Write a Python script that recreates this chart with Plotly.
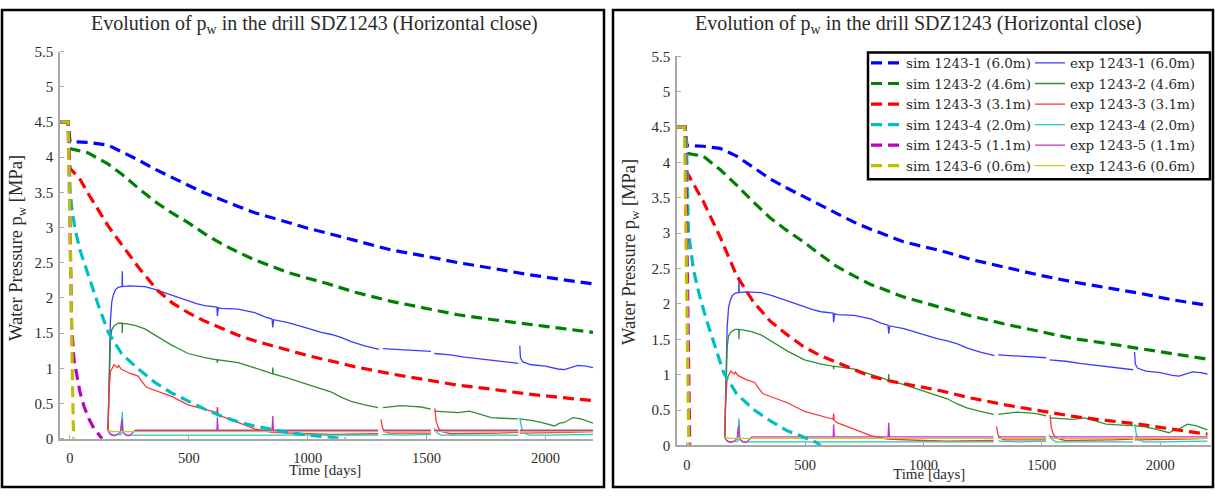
import plotly.graph_objects as go

# ---------------- data ----------------
labels = ["1243-1 (6.0m)", "1243-2 (4.6m)", "1243-3 (3.1m)",
          "1243-4 (2.0m)", "1243-5 (1.1m)", "1243-6 (0.6m)"]
sim_colors = ["#0000FF", "#008000", "#FF0000", "#00BFBF", "#BF00BF", "#BFBF00"]
exp_colors = ["#3c3cff", "#2f8f2f", "#ff3535", "#1cc8c8", "#c832c8", "#c8c81e"]

# simulation, left panel
simL1_t = [-40, -8, 0, 77, 161, 217, 287, 357, 427, 497, 567, 637, 707, 777, 847, 917, 1000, 1071,
           1200, 1352, 1500, 1632, 1780, 1912, 2050, 2200]
simL1_v = [4.5, 4.5, 4.22, 4.21, 4.17, 4.08, 3.96, 3.83, 3.71, 3.60, 3.49, 3.39, 3.30, 3.21, 3.14,
           3.07, 2.99, 2.93, 2.81, 2.68, 2.59, 2.50, 2.42, 2.34, 2.27, 2.20]
simL2_t = [-40, -8, 0, 77, 161, 217, 287, 357, 427, 497, 567, 637, 707, 777, 847, 917, 1000, 1085,
           1200, 1352, 1500, 1632, 1780, 1912, 2050, 2200]
simL2_v = [4.5, 4.5, 4.12, 4.06, 3.90, 3.76, 3.56, 3.37, 3.21, 3.07, 2.91, 2.77, 2.65, 2.54, 2.45,
           2.36, 2.28, 2.20, 2.08, 1.95, 1.85, 1.76, 1.69, 1.63, 1.57, 1.51]
simL3_t = [-40, -8, 0, 40, 77, 120, 161, 217, 287, 364, 430, 497, 560, 637, 707, 777, 850, 917,
           1000, 1078, 1200, 1352, 1500, 1632, 1780, 1912, 2050, 2200]
simL3_v = [4.5, 4.5, 3.84, 3.70, 3.48, 3.25, 3.02, 2.76, 2.44, 2.12, 1.93, 1.79, 1.68, 1.57, 1.47,
           1.39, 1.32, 1.26, 1.18, 1.12, 1.02, 0.92, 0.84, 0.76, 0.70, 0.64, 0.59, 0.54]
simL4_t = [-40, -8, -3, 0, 7, 20, 42, 77, 119, 161, 217, 287, 357, 427, 497, 567, 637, 707, 777,
           847, 917, 1000, 1080, 1160]
simL4_v = [4.5, 4.5, 4.0, 3.55, 3.3, 3.0, 2.68, 2.32, 1.90, 1.51, 1.21, 0.99, 0.80, 0.65, 0.53,
           0.42, 0.32, 0.24, 0.18, 0.13, 0.09, 0.05, 0.02, 0.0]
simL5_t = [-40, -8, -4, 0, 7, 17, 30, 42, 60, 80, 100, 120, 135]
simL5_v = [4.5, 4.5, 3.9, 2.8, 1.6, 1.12, 0.85, 0.66, 0.45, 0.28, 0.15, 0.06, 0.0]
simL6_t = [-40, -8, -4, 0, 5, 10, 15]
simL6_v = [4.5, 4.5, 3.8, 2.8, 1.8, 0.9, 0.0]

# simulation, right panel
simR1_t = [-40, -8, 0, 69, 140, 210, 281, 351, 422, 492, 563, 633, 704, 774, 845, 915, 1000, 1077,
           1200, 1352, 1500, 1634, 1780, 1915, 2050, 2200]
simR1_v = [4.5, 4.5, 4.24, 4.23, 4.20, 4.09, 3.93, 3.77, 3.64, 3.52, 3.39, 3.27, 3.16, 3.06, 2.97,
           2.88, 2.81, 2.75, 2.63, 2.51, 2.40, 2.31, 2.23, 2.15, 2.06, 1.98]
simR2_t = [-40, -8, 0, 69, 140, 210, 281, 351, 422, 492, 563, 633, 704, 774, 845, 915, 1000, 1077,
           1200, 1352, 1500, 1634, 1780, 1915, 2050, 2200]
simR2_v = [4.5, 4.5, 4.13, 4.09, 3.90, 3.68, 3.44, 3.22, 3.04, 2.88, 2.70, 2.53, 2.40, 2.28, 2.19,
           2.10, 2.02, 1.95, 1.83, 1.71, 1.60, 1.51, 1.44, 1.37, 1.30, 1.22]
simR3_t = [-40, -8, 0, 69, 140, 210, 281, 351, 422, 492, 563, 633, 704, 774, 845, 915, 1000, 1077,
           1200, 1352, 1500, 1634, 1780, 1915, 2050, 2200]
simR3_v = [4.5, 4.5, 3.86, 3.45, 2.95, 2.40, 2.03, 1.76, 1.57, 1.40, 1.27, 1.17, 1.07, 0.98, 0.92,
           0.87, 0.82, 0.77, 0.67, 0.57, 0.48, 0.41, 0.35, 0.30, 0.23, 0.16]
simR4_t = [-40, -8, -2, 0, 6, 27, 56, 84, 127, 155, 210, 281, 351, 422, 492, 549, 565]
simR4_v = [4.5, 4.5, 4.3, 3.9, 3.04, 2.49, 2.08, 1.76, 1.30, 1.03, 0.73, 0.51, 0.35, 0.21, 0.12,
           0.04, 0.0]
simR5_t = [-40, -8, -3, 2, 7, 12]
simR5_v = [4.5, 4.5, 3.6, 2.2, 0.9, 0.0]
simR6_t = [-40, -10, -6, -1, 4, 8]
simR6_v = [4.5, 4.5, 3.4, 2.0, 0.8, 0.0]

# measured data (None marks gaps in the record)
exp1_t = [160, 163, 166, 170, 176, 182, 192, 203, 215, 219, 220, 221, 250, 287, 315, 357, 392, 427,
          462, 497, 532, 567, 605, 618, 620, 624, 637, 707, 777, 820, 850, 853, 857, 917, 987, 1057,
          1100, 1140, 1183, 1240, 1300, 1306, 1316, 1421, 1518, 1525, 1533, 1600, 1660, 1772, 1830,
          1886, 1889, 1892, 1895, 1905, 1940, 2000, 2052, 2080, 2110, 2136, 2170, 2200]
exp1_v = [0.12, 0.6, 1.3, 1.67, 1.95, 2.04, 2.12, 2.15, 2.16, 2.16, 2.38, 2.16, 2.17, 2.17, 2.16, 2.12,
          2.08, 2.03, 1.99, 1.95, 1.92, 1.89, 1.87, 1.87, 1.74, 1.86, 1.85, 1.84, 1.79, 1.73, 1.70, 1.58,
          1.69, 1.65, 1.58, 1.51, 1.48, 1.44, 1.38, 1.32, 1.27, None, 1.28, 1.26, 1.24, None, 1.21,
          1.19, 1.16, 1.12, 1.10, 1.07, None, 1.32, 1.15, 1.09, 1.05, 1.03, 0.99, 0.98, 1.01, 1.04,
          1.03, 1.01]
exp2_t = [160, 163, 166, 170, 176, 185, 203, 219, 220, 221, 240, 273, 315, 357, 392, 427, 462, 497,
          567, 618, 620, 622, 707, 777, 820, 852, 853, 855, 917, 987, 1057, 1100, 1140, 1183, 1240,
          1296, 1306, 1316, 1393, 1440, 1477, 1518, 1525, 1533, 1590, 1632, 1681, 1720, 1772, 1820,
          1856, 1886, 1889, 1892, 1940, 1982, 2010, 2038, 2060, 2080, 2115, 2150, 2200]
exp2_v = [0.12, 0.5, 1.1, 1.4, 1.55, 1.6, 1.64, 1.64, 1.50, 1.64, 1.63, 1.61, 1.56, 1.47, 1.40, 1.33,
          1.27, 1.21, 1.15, 1.12, 1.08, 1.12, 1.08, 1.01, 0.96, 0.92, 1.01, 0.92, 0.86, 0.78, 0.71,
          0.66, 0.59, 0.53, 0.48, 0.44, None, 0.44, 0.47, 0.46, 0.45, 0.42, None, 0.39, 0.38, 0.37,
          0.39, 0.35, 0.30, 0.29, 0.28, 0.28, None, 0.28, 0.26, 0.23, 0.21, 0.18, 0.22, 0.23, 0.30,
          0.28, 0.22]
exp3_t = [160, 163, 170, 185, 200, 205, 215, 250, 287, 300, 322, 357, 427, 497, 567, 618, 620, 623,
          637, 707, 777, 847, 900, 1000, 1100, 1200, 1296, 1303, 1308, 1315, 1325, 1345, 1400, 1518,
          1525, 1535, 1540, 1550, 1565, 1600, 1700, 1800, 1886, 1889, 1892, 2000, 2100, 2200]
exp3_v = [0.12, 0.6, 0.95, 1.05, 1.01, 1.04, 0.99, 0.93, 0.89, 0.82, 0.73, 0.69, 0.60, 0.48, 0.41,
          0.37, 0.45, 0.35, 0.32, 0.23, 0.14, 0.09, 0.08, 0.07, 0.06, 0.06, 0.07, None, 0.27, 0.15,
          0.10, 0.08, 0.08, 0.08, None, 0.43, 0.25, 0.15, 0.10, 0.07, 0.07, 0.08, 0.09, None, 0.08,
          0.08, 0.09, 0.10]
exp4_t = [160, 165, 180, 200, 215, 220, 224, 240, 300, 400, 500, 600, 620, 640, 850, 900, 1000, 1100,
          1200, 1296, 1303, 1316, 1400, 1518, 1525, 1530, 1545, 1560, 1700, 1886, 1889, 1892, 1900,
          1910, 1930, 2000, 2100, 2200]
exp4_v = [0.12, 0.08, 0.05, 0.05, 0.06, 0.38, 0.08, 0.05, 0.05, 0.04, 0.04, 0.04, 0.05, 0.04, 0.04,
          0.05, 0.05, 0.04, 0.04, 0.05, None, 0.06, 0.05, 0.06, None, 0.15, 0.08, 0.05, 0.05, 0.05,
          None, 0.30, 0.15, 0.08, 0.05, 0.05, 0.06, 0.06]
exp5_t = [160, 170, 185, 200, 212, 218, 222, 235, 250, 262, 275, 400, 618, 620, 623, 850, 853, 856,
          1000, 1296, 1303, 1316, 1518, 1525, 1533, 1886, 1889, 1892, 2200]
exp5_v = [0.12, 0.06, 0.04, 0.06, 0.10, 0.28, 0.10, 0.05, 0.04, 0.08, 0.12, 0.12, 0.12, 0.30, 0.12,
          0.12, 0.32, 0.12, 0.12, 0.12, None, 0.12, 0.12, None, 0.12, 0.12, None, 0.12, 0.12]
exp6_t = [160, 180, 300, 600, 900, 1296, 1303, 1316, 1518, 1525, 1533, 1886, 1889, 1892, 2200]
exp6_v = [0.12, 0.10, 0.10, 0.10, 0.10, 0.10, None, 0.10, 0.10, None, 0.10, 0.10, None, 0.10, 0.10]

sim_left = [(simL1_t, simL1_v), (simL2_t, simL2_v), (simL3_t, simL3_v),
            (simL4_t, simL4_v), (simL5_t, simL5_v), (simL6_t, simL6_v)]
sim_right = [(simR1_t, simR1_v), (simR2_t, simR2_v), (simR3_t, simR3_v),
             (simR4_t, simR4_v), (simR5_t, simR5_v), (simR6_t, simR6_v)]
exp_all = [(exp1_t, exp1_v), (exp2_t, exp2_v), (exp3_t, exp3_v),
           (exp4_t, exp4_v), (exp5_t, exp5_v), (exp6_t, exp6_v)]

x_ticks = [0, 500, 1000, 1500, 2000]
y_ticks = [0, 0.5, 1, 1.5, 2, 2.5, 3, 3.5, 4, 4.5, 5, 5.5]
y_ticktext = ["0", "0.5", "1", "1.5", "2", "2.5", "3", "3.5", "4", "4.5", "5", "5.5"]

W, H = 1215, 497
FONT = "Liberation Serif"
LEG_FONT = "DejaVu Serif"
TXT = "#2b2b2b"
AXIS_GREY = "#a8a8a8"

fig = go.Figure()

# measured curves first so the dashed simulations sit on top
for xa, ya, show in (("x", "y", False), ("x2", "y2", True)):
    for i, (t, v) in enumerate(exp_all):
        fig.add_trace(go.Scatter(
            x=t, y=v, mode="lines", xaxis=xa, yaxis=ya,
            line=dict(color=exp_colors[i], width=1.3),
            name="exp " + labels[i], showlegend=show, legend="legend2",
            connectgaps=False, hoverinfo="skip"))

for xa, ya, sims, show in (("x", "y", sim_left, False), ("x2", "y2", sim_right, True)):
    for i, (t, v) in enumerate(sims):
        fig.add_trace(go.Scatter(
            x=t, y=v, mode="lines", xaxis=xa, yaxis=ya,
            line=dict(color=sim_colors[i], width=3.2, dash="11px,6px"),
            name="sim " + labels[i], showlegend=show, legend="legend",
            hoverinfo="skip"))


def px_x(p):
    return p / W


def px_y(p):
    return 1 - p / H


def x_axis(domain, rng, anchor):
    # invisible outside ticks only push the labels down; the visible marks are inside ticks
    return dict(domain=domain, range=rng, anchor=anchor, tickvals=x_ticks,
                showline=True, linecolor=AXIS_GREY, linewidth=1.5, showgrid=False,
                zeroline=False, ticks="outside", ticklen=5, tickcolor="rgba(0,0,0,0)",
                tickfont=dict(family=FONT, size=14.5, color=TXT),
                minor=dict(tickvals=x_ticks, ticks="inside", ticklen=4,
                           tickcolor=AXIS_GREY, showgrid=False))


def y_axis(domain, anchor):
    return dict(domain=domain, range=[0, 5.5], anchor=anchor, tickvals=y_ticks,
                ticktext=y_ticktext, showline=True, linecolor=AXIS_GREY, linewidth=1.5,
                showgrid=False, zeroline=False, ticks="outside", ticklen=2,
                tickcolor="rgba(0,0,0,0)",
                tickfont=dict(family=FONT, size=15, color=TXT),
                minor=dict(tickvals=y_ticks, ticks="inside", ticklen=4,
                           tickcolor=AXIS_GREY, showgrid=False))


fig.update_layout(
    width=W, height=H, margin=dict(l=0, r=0, t=0, b=0),
    paper_bgcolor="white", plot_bgcolor="white", showlegend=True,
    xaxis=x_axis([px_x(60), px_x(593)], [-42, 2200], "y"),
    yaxis=y_axis([px_y(445), px_y(45)], "x"),
    xaxis2=x_axis([px_x(677), px_x(1211)], [-42, 2215], "y2"),
    yaxis2=y_axis([px_y(452), px_y(50)], "x2"),
    legend=dict(x=px_x(866), y=px_y(41), xanchor="left", yanchor="top",
                bgcolor="rgba(0,0,0,0)", borderwidth=0, itemwidth=30,
                tracegroupgap=0, font=dict(family=LEG_FONT, size=13.5, color=TXT)),
    legend2=dict(x=px_x(1030), y=px_y(41), xanchor="left", yanchor="top",
                 bgcolor="rgba(0,0,0,0)", borderwidth=0, itemwidth=30,
                 tracegroupgap=0, font=dict(family=LEG_FONT, size=13.5, color=TXT)),
)

shapes = [
    # panel frames
    dict(type="rect", xref="paper", yref="paper", x0=px_x(2), x1=px_x(604),
         y0=px_y(495), y1=px_y(2), line=dict(color="black", width=2.5), layer="below"),
    dict(type="rect", xref="paper", yref="paper", x0=px_x(613), x1=px_x(1213),
         y0=px_y(495), y1=px_y(2), line=dict(color="black", width=2.5), layer="below"),
    # legend box
    dict(type="rect", xref="paper", yref="paper", x0=px_x(868), x1=px_x(1210),
         y0=px_y(177), y1=px_y(46), line=dict(color="black", width=2.5),
         fillcolor="white", layer="above"),
]
fig.update_layout(shapes=shapes)

title_txt = "Evolution of p<sub>w</sub> in the drill SDZ1243 (Horizontal close)"
ylab = "Water Pressure p<sub>w</sub> [MPa]"
annots = []
for cx, ty, ycx, ycy, xcy in ((314, 17, 17, 248, 477), (918, 17, 631, 252, 481)):
    annots.append(dict(text=title_txt, x=px_x(cx), y=px_y(ty), xref="paper", yref="paper",
                       showarrow=False, xanchor="center", yanchor="middle",
                       font=dict(family=FONT, size=20, color=TXT)))
    annots.append(dict(text=ylab, x=px_x(ycx), y=px_y(ycy), xref="paper", yref="paper",
                       showarrow=False, xanchor="center", yanchor="middle", textangle=-90,
                       font=dict(family=FONT, size=18.5, color=TXT)))
    annots.append(dict(text="Time [days]", x=px_x(cx + 11), y=px_y(xcy), xref="paper",
                       yref="paper", showarrow=False, xanchor="center", yanchor="middle",
                       borderpad=0, font=dict(family=FONT, size=15, color=TXT)))
fig.update_layout(annotations=annots)

fig.write_html("out.html")
